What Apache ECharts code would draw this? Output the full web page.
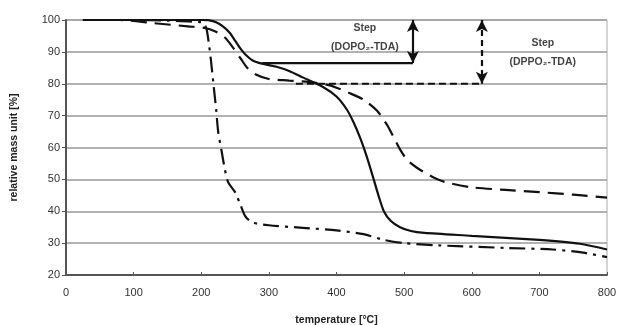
<!DOCTYPE html>
<html><head><meta charset="utf-8">
<script src="https://cdn.jsdelivr.net/npm/echarts@6/dist/echarts.min.js"></script>
<style>html,body{margin:0;padding:0;background:#fff}#c{width:620px;height:325px}</style>
</head><body><div id="c"></div>
<script>
// temperature [°C], relative mass [%]
const solidSeries = [[25,100],[100,100],[200,100],[212,99.9],[222,99.3],[232,98],[242,96],[250,93.5],[258,91],[266,89],[276,87.3],[290,86.3],[310,85.4],[330,84],[350,82],[380,79],[400,76],[415,72],[425,68],[435,63],[445,57],[455,50],[462,45],[470,40],[480,37],[494,35],[510,33.8],[530,33.2],[600,32.3],[700,31],[760,29.8],[800,28]];
const dashedSeries = [[25,100],[80,100],[130,99],[180,98],[205,97.5],[220,96.5],[235,94.5],[248,91],[258,88],[268,85],[280,83],[300,81.5],[330,81],[360,80.5],[390,79.5],[420,77],[440,75],[460,71.5],[475,67],[485,63],[495,59],[505,56],[520,53.5],[540,51],[560,49.2],[600,47.5],[650,46.7],[700,46],[750,45.2],[800,44.3]];
const dashDotSeries = [[25,100],[100,100],[150,99.8],[200,99.3],[205,98.5],[208,97],[211,93],[214,88],[218,80],[222,72],[225,65],[230,59],[235,53],[240,49],[250,46],[258,42],[265,38.5],[275,36.5],[300,35.6],[350,34.8],[400,34],[440,32.8],[470,31],[500,30],[550,29.3],[650,28.5],[720,28],[765,27],[800,25.6]];
const stepSolidLine = [[290,86.5],[513,86.5]];
const stepSolidArrow = [[513,86.5],[513,100]];
const stepDashedLine = [[340,80],[615,80]];
const stepDashedArrow = [[615,80],[615,100]];
const labelSolid = [[442,94.6]];
const labelDashed = [[705,89.8]];
const xTicks = {min:0, max:800, interval:100};
const yTicks = {min:20, max:100, interval:10};

const chart = echarts.init(document.getElementById('c'));
const font = 'Liberation Sans, Arial, sans-serif';
function curve(data, type, dash){
  return {type:'line', data, symbol:'none', smooth:0.25, silent:true,
    lineStyle:{color:'#111', width:2.2, type: dash || type}};
}
function arrow(pts, type){
  return {type:'line', data:[], silent:true,
    markLine:{silent:true, symbol:['arrow','arrow'], symbolSize:[9,12], label:{show:false},
      lineStyle:{color:'#111', width:2.2, type:type},
      data:[[{coord:pts[1]},{coord:pts[0]}]]}};
}
function label(pt, name){
  return {type:'scatter', data:pt, symbolSize:0, silent:true,
    label:{show:true, position:'inside', formatter:'Step\n(' + name + ')', color:'#111',
      fontFamily:font, fontWeight:'bold', fontSize:10.5, lineHeight:19, align:'center'}};
}
chart.setOption({
  animation:false,
  grid:{left:66, right:13, top:20, bottom:50, show:true, borderColor:'#aaa', borderWidth:1,
    containLabel:false, outerBoundsMode:'none'},
  xAxis:{type:'value', min:xTicks.min, max:xTicks.max, interval:xTicks.interval,
    name:'temperature [°C]', nameLocation:'middle', nameGap:40,
    nameTextStyle:{fontFamily:font, fontWeight:'bold', fontSize:10.5, color:'#222'},
    axisLine:{show:true, lineStyle:{color:'#555', width:2}},
    axisTick:{show:true, inside:true, length:3, lineStyle:{color:'#555'}},
    axisLabel:{fontFamily:font, fontSize:11, color:'#333', margin:12},
    splitLine:{show:false}},
  yAxis:{type:'value', min:yTicks.min, max:yTicks.max, interval:yTicks.interval,
    name:'relative mass unit [%]', nameLocation:'middle', nameGap:46,
    nameTextStyle:{fontFamily:font, fontWeight:'bold', fontSize:10.5, color:'#222'},
    axisLine:{show:true, lineStyle:{color:'#555', width:2}},
    axisTick:{show:true, length:4, lineStyle:{color:'#555'}},
    axisLabel:{fontFamily:font, fontSize:11, color:'#333', margin:6},
    splitLine:{show:true, lineStyle:{color:'#999', width:1.5}}},
  series:[
    curve(solidSeries,'solid'),
    curve(dashedSeries,'dashed',[16,8]),
    curve(dashDotSeries,'dashed',[16,6,3,6]),
    {type:'line', data:stepSolidLine, symbol:'none', silent:true, lineStyle:{color:'#111', width:2.2}},
    {type:'line', data:stepDashedLine, symbol:'none', silent:true, lineStyle:{color:'#111', width:2.2, type:[7,4]}},
    arrow(stepSolidArrow,'solid'),
    arrow(stepDashedArrow,[6,4]),
    label(labelSolid,'DOPO₂-TDA'),
    label(labelDashed,'DPPO₂-TDA')
  ]
});
</script></body></html>
